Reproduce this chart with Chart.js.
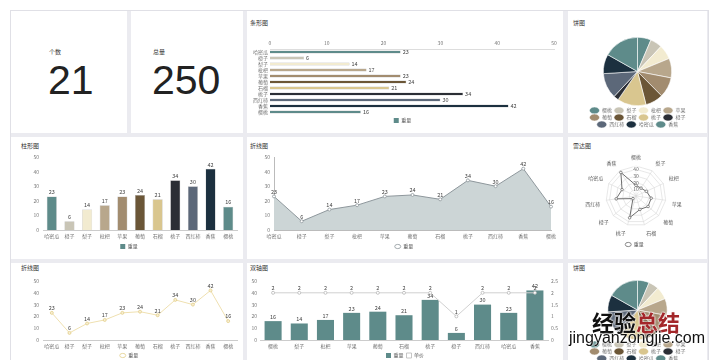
<!DOCTYPE html>
<html><head><meta charset="utf-8">
<script src="https://cdn.jsdelivr.net/npm/chart.js@4.4.1/dist/chart.umd.min.js"></script>
<style>
html,body{margin:0;padding:0;}
body{width:720px;height:360px;overflow:hidden;position:relative;background:#fff;font-family:"Noto Sans CJK SC","Noto Sans",sans-serif;}
#bg{position:absolute;left:10px;top:10px;width:699px;height:360px;background:#ebebf0;border:1px solid #e0e0e6;box-sizing:border-box;}
.card{position:absolute;background:#fff;}
.t{position:absolute;font-size:6px;line-height:6px;color:#333;white-space:nowrap;}
.lbl{position:absolute;font-size:6px;line-height:6px;color:#333;white-space:nowrap;}
.big{position:absolute;font-family:"Liberation Sans",Arial,sans-serif;font-size:41px;line-height:41px;color:#222;white-space:nowrap;}
canvas{position:absolute;}
.wm{position:absolute;white-space:nowrap;text-shadow:0 0 2px #fff,0 0 2px #fff,0 0 1px #fff;}
</style></head>
<body>
<div id="bg"></div>
<div class="card" style="left:11px;top:11px;width:116px;height:122px"></div>
<div class="card" style="left:131px;top:11px;width:112px;height:122px"></div>
<div class="card" style="left:247px;top:11px;width:316px;height:122px"></div>
<div class="card" style="left:568px;top:11px;width:139px;height:122px"></div>
<div class="card" style="left:11px;top:137px;width:232px;height:122px"></div>
<div class="card" style="left:247px;top:137px;width:316px;height:122px"></div>
<div class="card" style="left:568px;top:137px;width:139px;height:122px"></div>
<div class="card" style="left:11px;top:263px;width:232px;height:110px"></div>
<div class="card" style="left:247px;top:263px;width:316px;height:110px"></div>
<div class="card" style="left:568px;top:263px;width:139px;height:110px"></div>

<div class="lbl" style="left:49px;top:49px">个数</div>
<div class="big" id="countV" style="left:48px;top:60px"></div>
<div class="lbl" style="left:153px;top:49px">总量</div>
<div class="big" id="totalV" style="left:152px;top:60px"></div>

<div class="t" style="left:250px;top:20px">条形图</div>
<div class="t" style="left:573px;top:20px">饼图</div>
<div class="t" style="left:21px;top:143px">柱形图</div>
<div class="t" style="left:250px;top:143px">折线图</div>
<div class="t" style="left:573px;top:143px">雷达图</div>
<div class="t" style="left:21px;top:265px">折线图</div>
<div class="t" style="left:250px;top:265px">双轴图</div>
<div class="t" style="left:573px;top:265px">饼图</div>

<script>
// ---- data ----
const categories = ['哈密瓜','橙子','梨子','枇杷','苹果','葡萄','石榴','桃子','西红柿','香蕉','樱桃'];
const weights = [23,6,14,17,23,24,21,34,30,42,16];
const dualCategories = ['樱桃','梨子','枇杷','苹果','葡萄','石榴','桃子','橙子','西红柿','哈密瓜','香蕉'];
const dualWeights = [16,14,17,23,24,21,34,6,30,23,42];
const dualPrices = [2,2,2,2,2,2,2,1,2,2,2];
const pieLabels = ['樱桃','梨子','枇杷','苹果','葡萄','石榴','桃子','橙子','西红柿','哈密瓜','香蕉'];
const pieValues = [16,14,17,23,24,21,34,6,30,23,42];
const radarLabels = ['樱桃','梨子','枇杷','苹果','葡萄','石榴','桃子','橙子','西红柿','哈密瓜','香蕉'];
const radarValues = [16,14,17,23,24,21,34,6,30,23,42];
const countValue = 21;
const totalValue = 250;
const weightTicks = [0,10,20,30,40,50];
const priceTicks = [0,0.5,1,1.5,2,2.5];
const seriesWeight = '重量';
const seriesPrice = '单价';

const PALETTE = ['#5e8b8a','#c9c5b6','#f2ebd0','#b8a78c','#a28c6f','#6b5637','#d9c68f','#2b2e35','#5c6879','#1c303f'];
const colorsFor = n => Array.from({length:n},(_,i)=>PALETTE[i%PALETTE.length]);

document.getElementById('countV').textContent = countValue;
document.getElementById('totalV').textContent = totalValue;

Chart.defaults.font.family = '"Noto Sans CJK SC","Noto Sans",sans-serif';
Chart.defaults.font.size = 5;
Chart.defaults.color = '#777';
Chart.defaults.animation = false;
Chart.defaults.responsive = false;
Chart.defaults.devicePixelRatio = 1;
Chart.defaults.plugins.tooltip.enabled = false;

const valueLabels = {
  id:'valueLabels',
  afterDatasetsDraw(chart){
    const ctx = chart.ctx;
    chart.data.datasets.forEach((ds,i)=>{
      if(!ds.showValues) return;
      const meta = chart.getDatasetMeta(i);
      meta.data.forEach((el,j)=>{
        const v = ds.data[j];
        ctx.save();
        ctx.font = '5.5px "Noto Sans CJK SC","Noto Sans",sans-serif';
        ctx.fillStyle = '#444';
        if(chart.options.indexAxis==='y'){
          ctx.textAlign='left'; ctx.textBaseline='middle';
          ctx.fillText(v, el.x+2, el.y);
        } else {
          ctx.textAlign='center'; ctx.textBaseline='bottom';
          ctx.fillText(v, el.x, el.y-(meta.type==='line'?2:1.5));
        }
        ctx.restore();
      });
    });
  }
};
Chart.register(valueLabels);

function mk(x,y,w,h){
  const c=document.createElement('canvas');
  c.width=w;c.height=h;
  c.style.left=x+'px';c.style.top=y+'px';c.style.width=w+'px';c.style.height=h+'px';
  document.body.appendChild(c);return c;
}
const boxItem=(text,color)=>({text,fillStyle:color,strokeStyle:color,lineWidth:0,fontColor:'#666'});
const lineItem=(text,color)=>({text,fillStyle:'#fff',strokeStyle:color,lineWidth:0.8,pointStyle:'circle',fontColor:'#666'});
const tickCb = arr => (v)=> arr.includes(v)? v : '';
const noGrid = {display:false, drawTicks:false, tickLength:0};

// horizontal bar
new Chart(mk(247,30,316,103),{
  type:'bar',
  data:{labels:categories,datasets:[{label:seriesWeight,data:weights,backgroundColor:colorsFor(weights.length),borderColor:'rgba(50,50,50,0.35)',borderWidth:0.5,barPercentage:0.6,categoryPercentage:0.9,showValues:true}]},
  options:{indexAxis:'y',layout:{padding:{left:4,right:9,top:9,bottom:0}},
    scales:{
      x:{position:'top',min:0,max:50,ticks:{stepSize:10,padding:3,callback:tickCb(weightTicks)},grid:noGrid,border:{color:'#ddd'},afterFit:s=>{s.height=10;}},
      y:{grid:noGrid,border:{display:false},ticks:{padding:2,autoSkip:false},afterFit:s=>{s.width=19;}}
    },
    plugins:{legend:{position:'bottom',labels:{padding:3,boxWidth:5,boxHeight:5,generateLabels:()=>[boxItem(seriesWeight,PALETTE[0])]}}}
  }
});

// top pie
new Chart(mk(568,34,139,103),{
  type:'pie',
  data:{labels:pieLabels,datasets:[{data:pieValues,backgroundColor:colorsFor(pieValues.length),borderColor:'#fff',borderWidth:0.6}]},
  options:{layout:{padding:{left:10,right:10,top:3,bottom:0}},
    plugins:{legend:{position:'bottom',labels:{usePointStyle:true,pointStyle:'circle',pointStyleWidth:10,padding:2,color:'#777'}}}
  }
});

// column chart
new Chart(mk(11,150,232,109),{
  type:'bar',
  data:{labels:categories,datasets:[{label:seriesWeight,data:weights,backgroundColor:colorsFor(weights.length),borderColor:'rgba(50,50,50,0.35)',borderWidth:0.5,barPercentage:0.6,categoryPercentage:0.95,showValues:true}]},
  options:{layout:{padding:{left:10,right:6,top:7,bottom:0}},
    scales:{
      x:{grid:noGrid,border:{color:'#ccc'},ticks:{padding:3,autoSkip:false,maxRotation:0},afterFit:s=>{s.height=10;}},
      y:{min:0,max:50,ticks:{stepSize:10,padding:4,callback:tickCb(weightTicks)},grid:noGrid,border:{display:false},afterFit:s=>{s.width=22;}}
    },
    plugins:{legend:{position:'bottom',labels:{padding:4,boxWidth:5,boxHeight:5,generateLabels:()=>[boxItem(seriesWeight,PALETTE[0])]}}}
  }
});

// area line
new Chart(mk(247,150,316,109),{
  type:'line',
  data:{labels:categories,datasets:[{label:seriesWeight,data:weights,borderColor:'#8e979c',borderWidth:1,backgroundColor:'#ccd5d6',fill:'origin',pointRadius:1.5,pointBackgroundColor:'#fff',pointBorderColor:'#8e979c',pointBorderWidth:0.8,tension:0,showValues:true}]},
  options:{layout:{padding:{left:10,right:12,top:7,bottom:0}},
    scales:{
      x:{offset:false,grid:noGrid,border:{color:'#bbb'},ticks:{padding:3,autoSkip:false,maxRotation:0},afterFit:s=>{s.height=10;}},
      y:{min:0,max:50,ticks:{stepSize:10,padding:4,callback:tickCb(weightTicks)},grid:noGrid,border:{color:'#bbb'},afterFit:s=>{s.width=17;}}
    },
    plugins:{legend:{position:'bottom',labels:{padding:4,usePointStyle:true,pointStyleWidth:6,boxHeight:3,generateLabels:()=>[lineItem(seriesWeight,'#8e979c')]}}}
  }
});

// radar
new Chart(mk(568,148,139,111),{
  type:'radar',
  data:{labels:radarLabels,datasets:[{label:seriesWeight,data:radarValues,borderColor:'#6e6e6e',borderWidth:1,backgroundColor:'transparent',pointRadius:1.3,pointBackgroundColor:'#fff',pointBorderColor:'#6e6e6e',pointBorderWidth:0.8}]},
  options:{layout:{padding:{left:11,right:17,top:6,bottom:2}},
    scales:{r:{min:0,max:45,
      ticks:{stepSize:10,color:'#666',backdropPadding:0.5,callback:v=>v%10===0?v:''},
      pointLabels:{font:{size:5},padding:3,color:'#666'},
      grid:{color:'#d8d8d8',lineWidth:0.6},angleLines:{color:'#d8d8d8',lineWidth:0.6}}},
    plugins:{legend:{position:'bottom',labels:{padding:4,usePointStyle:true,pointStyleWidth:6,boxHeight:3,generateLabels:()=>[lineItem(seriesWeight,'#6e6e6e')]}}}
  }
});

// bottom line
new Chart(mk(11,273,232,95),{
  type:'line',
  data:{labels:categories,datasets:[{label:seriesWeight,data:weights,borderColor:'#efe0b0',borderWidth:1,fill:false,pointRadius:1.5,pointBackgroundColor:'#f7eed2',pointBorderColor:'#e3cf8c',pointBorderWidth:0.8,tension:0,showValues:true}]},
  options:{layout:{padding:{left:10,right:6,top:8,bottom:0}},
    scales:{
      x:{offset:true,grid:noGrid,border:{color:'#ccc'},ticks:{padding:3,autoSkip:false,maxRotation:0},afterFit:s=>{s.height=10;}},
      y:{min:0,max:50,ticks:{stepSize:10,padding:4,callback:tickCb(weightTicks)},grid:noGrid,border:{display:false},afterFit:s=>{s.width=22;}}
    },
    plugins:{legend:{position:'bottom',labels:{padding:3,usePointStyle:true,pointStyleWidth:6,boxHeight:3,generateLabels:()=>[lineItem(seriesWeight,'#e3cf8c')]}}}
  }
});

// dual axis
new Chart(mk(247,273,316,95),{
  data:{labels:dualCategories,datasets:[
    {type:'bar',label:seriesWeight,data:dualWeights,yAxisID:'y',backgroundColor:PALETTE[0],barPercentage:0.7,categoryPercentage:0.93,showValues:true,order:2},
    {type:'line',label:seriesPrice,data:dualPrices,yAxisID:'y1',borderColor:'#d0d0d0',borderWidth:1,pointRadius:1.5,pointBackgroundColor:'#fff',pointBorderColor:'#b8b8b8',pointBorderWidth:0.8,tension:0,showValues:true,order:1}
  ]},
  options:{layout:{padding:{left:3,right:3,top:8,bottom:0}},
    scales:{
      x:{grid:noGrid,border:{color:'#ccc'},ticks:{padding:3,autoSkip:false,maxRotation:0},afterFit:s=>{s.height=10;}},
      y:{position:'left',min:0,max:50,ticks:{stepSize:10,padding:3,callback:tickCb(weightTicks)},grid:noGrid,border:{display:false},afterFit:s=>{s.width=10;}},
      y1:{position:'right',min:0,max:2.5,ticks:{stepSize:0.5,padding:3,callback:tickCb(priceTicks)},grid:noGrid,border:{display:false},afterFit:s=>{s.width=12;}}
    },
    plugins:{legend:{position:'bottom',labels:{padding:3,boxWidth:5,boxHeight:5,generateLabels:()=>[boxItem(seriesWeight,PALETTE[0]),lineItem(seriesPrice,'#b8b8b8')]}}}
  }
});

// bottom pie
new Chart(mk(568,276,139,95),{
  type:'pie',
  data:{labels:pieLabels,datasets:[{data:pieValues,backgroundColor:colorsFor(pieValues.length),borderColor:'#fff',borderWidth:0.6}]},
  options:{layout:{padding:{left:10,right:10,top:4,bottom:0}},
    plugins:{legend:{position:'bottom',labels:{usePointStyle:true,pointStyle:'circle',pointStyleWidth:10,padding:2,color:'#777'}}}
  }
});
</script>
<div class="wm" style="left:592px;top:309px;font-size:22px;line-height:24px;font-weight:bold;font-family:'Noto Sans CJK SC',sans-serif;"><span style="color:#111">经验</span><span style="color:#a3272a">总结</span></div>
<div class="wm" style="left:569px;top:330px;font-size:16px;line-height:16px;font-family:'Liberation Sans',Arial,sans-serif;color:#111;">jingyanzongjie.com</div>
</body></html>
